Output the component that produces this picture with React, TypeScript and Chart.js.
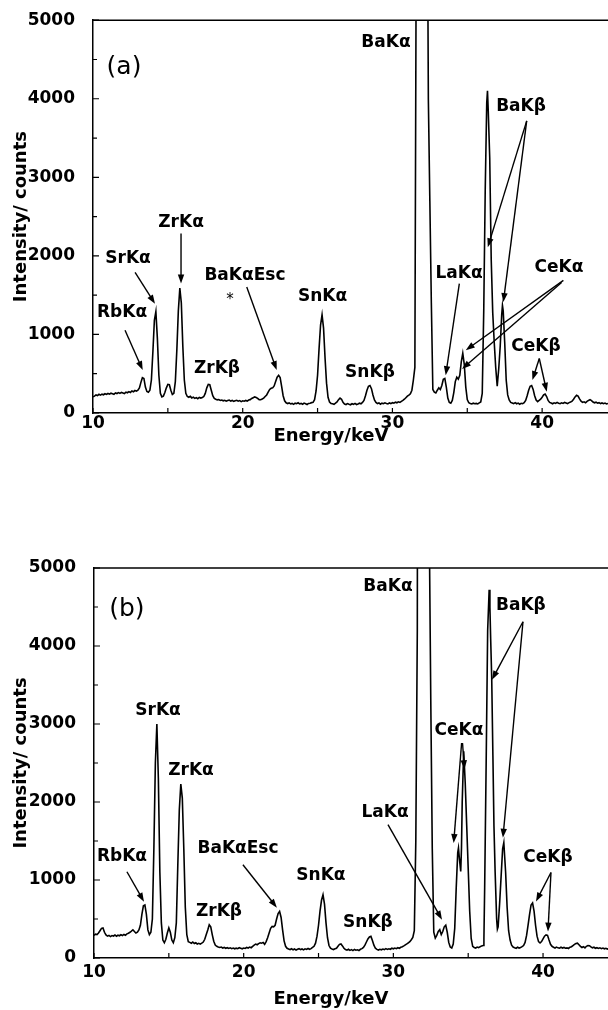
import { useEffect, useRef } from "react";
import { Chart, registerables } from "chart.js";

Chart.register(...registerables);

const FONT = "'DejaVu Sans', 'Liberation Sans', sans-serif";

// ---------- Panel (a) spectrum ----------
const energyA = [
  10.0, 10.1, 10.2, 10.3, 10.4, 10.5, 10.6, 10.7, 10.8, 10.9,
  11.0, 11.1, 11.2, 11.3, 11.4, 11.5, 11.6, 11.7, 11.8, 11.9,
  12.0, 12.1, 12.2, 12.3, 12.4, 12.5, 12.6, 12.7, 12.8, 12.9,
  13.0, 13.1, 13.2, 13.3, 13.4, 13.5, 13.6, 13.7, 13.8, 13.9,
  14.0, 14.1, 14.2, 14.3, 14.4, 14.5, 14.6, 14.7, 14.8, 14.9,
  15.0, 15.1, 15.2, 15.3, 15.4, 15.5, 15.6, 15.7, 15.8, 15.9,
  16.0, 16.1, 16.2, 16.3, 16.4, 16.5, 16.6, 16.7, 16.8, 16.9,
  17.0, 17.1, 17.2, 17.3, 17.4, 17.5, 17.6, 17.7, 17.8, 17.9,
  18.0, 18.1, 18.2, 18.3, 18.4, 18.5, 18.6, 18.7, 18.8, 18.9,
  19.0, 19.1, 19.2, 19.3, 19.4, 19.5, 19.6, 19.7, 19.8, 19.9,
  20.0, 20.1, 20.2, 20.3, 20.4, 20.5, 20.6, 20.7, 20.8, 20.9,
  21.0, 21.1, 21.2, 21.3, 21.4, 21.5, 21.6, 21.7, 21.8, 21.9,
  22.0, 22.1, 22.2, 22.3, 22.4, 22.5, 22.6, 22.7, 22.8, 22.9,
  23.0, 23.1, 23.2, 23.3, 23.4, 23.5, 23.6, 23.7, 23.8, 23.9,
  24.0, 24.1, 24.2, 24.3, 24.4, 24.5, 24.6, 24.7, 24.8, 24.9,
  25.0, 25.1, 25.2, 25.3, 25.4, 25.5, 25.6, 25.7, 25.8, 25.9,
  26.0, 26.1, 26.2, 26.3, 26.4, 26.5, 26.6, 26.7, 26.8, 26.9,
  27.0, 27.1, 27.2, 27.3, 27.4, 27.5, 27.6, 27.7, 27.8, 27.9,
  28.0, 28.1, 28.2, 28.3, 28.4, 28.5, 28.6, 28.7, 28.8, 28.9,
  29.0, 29.1, 29.2, 29.3, 29.4, 29.5, 29.6, 29.7, 29.8, 29.9,
  30.0, 30.1, 30.2, 30.3, 30.4, 30.5, 30.6, 30.7, 30.8, 30.9,
  31.0, 31.1, 31.2, 31.3, 31.4, 31.5, 31.6, 31.7, 31.8, 31.9,
  32.0, 32.1, 32.2, 32.3, 32.4, 32.5, 32.6, 32.7, 32.8, 32.9,
  33.0, 33.1, 33.2, 33.3, 33.4, 33.5, 33.6, 33.7, 33.8, 33.9,
  34.0, 34.1, 34.2, 34.3, 34.4, 34.5, 34.6, 34.7, 34.8, 34.9,
  35.0, 35.1, 35.2, 35.3, 35.4, 35.5, 35.6, 35.7, 35.8, 35.9,
  36.0, 36.1, 36.2, 36.3, 36.35, 36.4, 36.5, 36.6, 36.7, 36.8, 36.9,
  37.0, 37.1, 37.2, 37.3, 37.35, 37.4, 37.5, 37.6, 37.7, 37.8, 37.9,
  38.0, 38.1, 38.2, 38.3, 38.4, 38.5, 38.6, 38.7, 38.8, 38.9,
  39.0, 39.1, 39.2, 39.3, 39.4, 39.5, 39.6, 39.7, 39.8, 39.9,
  40.0, 40.1, 40.2, 40.3, 40.4, 40.5, 40.6, 40.7, 40.8, 40.9,
  41.0, 41.1, 41.2, 41.3, 41.4, 41.5, 41.6, 41.7, 41.8, 41.9,
  42.0, 42.1, 42.2, 42.3, 42.4, 42.5, 42.6, 42.7, 42.8, 42.9,
  43.0, 43.1, 43.2, 43.3, 43.4, 43.5, 43.6, 43.7, 43.8, 43.9,
  44.0, 44.1, 44.2, 44.3, 44.4,
];
const countsA = [
  205, 215, 230, 222, 238, 228, 240, 232, 245, 236,
  248, 240, 252, 246, 238, 255, 248, 260, 250, 262,
  256, 248, 266, 258, 272, 262, 280, 270, 286, 278,
  290, 320, 390, 450, 440, 330, 275, 265, 290, 420,
  780, 1180, 1290, 950, 480, 250, 205, 215, 260, 320,
  365, 360, 290, 235, 250, 400, 800, 1300, 1590, 1400,
  850, 420, 250, 210, 200, 212, 192, 202, 186, 196,
  182, 198, 190, 196, 210, 250, 320, 365, 360, 290,
  220, 185, 175, 168, 172, 160, 165, 155, 162, 150,
  158, 165, 152, 160, 148, 155, 162, 150, 158, 145,
  155, 150, 160, 152, 165, 170, 185, 195, 205, 198,
  185, 170, 168, 178, 190, 210, 230, 265, 300, 315,
  320, 345, 400, 455, 480, 450, 340, 220, 155, 130,
  120, 128, 115, 122, 110, 125, 118, 130, 115, 122,
  112, 126, 118, 108, 122, 125, 132, 135, 170, 280,
  480, 820, 1120, 1250, 1080, 700, 380, 200, 140, 122,
  118, 110, 125, 140, 170, 190, 175, 135, 115, 108,
  120, 112, 105, 118, 110, 122, 108, 115, 125, 118,
  135, 160, 220, 290, 340, 350, 310, 230, 165, 135,
  120, 128, 112, 125, 118, 130, 122, 115, 128, 120,
  132, 125, 138, 130, 142, 135, 148, 160, 175, 195,
  215, 228, 245, 290, 420, 580, 6500, 22000, 34000, 38000,
  35000, 26000, 15000, 8000, 4000, 2700, 1400, 300, 265, 255,
  290, 320, 300, 350, 430, 440, 330, 190, 135, 125,
  160, 260, 400, 455, 430, 480, 650, 760, 620, 330,
  170, 130, 120, 115, 125, 118, 122, 115, 128, 140,
  250, 1300, 2850, 3950, 4100, 3850, 3250, 1950, 1280, 900, 580,
  340, 560, 850, 1250, 1370, 1300, 900, 420, 230, 165, 135,
  128, 120, 132, 118, 126, 112, 124, 118, 130, 160,
  220, 290, 340, 350, 300, 220, 165, 145, 160, 175,
  200, 230, 240, 210, 160, 135, 128, 118, 130, 122,
  135, 125, 118, 130, 122, 135, 128, 120, 132, 140,
  150, 175, 205, 225, 215, 180, 150, 135, 142, 130,
  148, 160, 170, 158, 140, 130, 138, 125, 132, 120,
  128, 118, 126, 115, 122,
];

// ---------- Panel (b) spectrum ----------
const energyB = [
  10.0, 10.1, 10.2, 10.3, 10.4, 10.5, 10.6, 10.7, 10.8, 10.9,
  11.0, 11.1, 11.2, 11.3, 11.4, 11.5, 11.6, 11.7, 11.8, 11.9,
  12.0, 12.1, 12.2, 12.3, 12.4, 12.5, 12.6, 12.7, 12.8, 12.9,
  13.0, 13.1, 13.2, 13.3, 13.4, 13.5, 13.6, 13.7, 13.8, 13.9,
  14.0, 14.1, 14.2, 14.3, 14.4, 14.5, 14.6, 14.7, 14.8, 14.9,
  15.0, 15.1, 15.2, 15.3, 15.4, 15.5, 15.6, 15.7, 15.8, 15.9,
  16.0, 16.1, 16.2, 16.3, 16.4, 16.5, 16.6, 16.7, 16.8, 16.9,
  17.0, 17.1, 17.2, 17.3, 17.4, 17.5, 17.6, 17.7, 17.8, 17.9,
  18.0, 18.1, 18.2, 18.3, 18.4, 18.5, 18.6, 18.7, 18.8, 18.9,
  19.0, 19.1, 19.2, 19.3, 19.4, 19.5, 19.6, 19.7, 19.8, 19.9,
  20.0, 20.1, 20.2, 20.3, 20.4, 20.5, 20.6, 20.7, 20.8, 20.9,
  21.0, 21.1, 21.2, 21.3, 21.4, 21.5, 21.6, 21.7, 21.8, 21.9,
  22.0, 22.1, 22.2, 22.3, 22.4, 22.5, 22.6, 22.7, 22.8, 22.9,
  23.0, 23.1, 23.2, 23.3, 23.4, 23.5, 23.6, 23.7, 23.8, 23.9,
  24.0, 24.1, 24.2, 24.3, 24.4, 24.5, 24.6, 24.7, 24.8, 24.9,
  25.0, 25.1, 25.2, 25.3, 25.4, 25.5, 25.6, 25.7, 25.8, 25.9,
  26.0, 26.1, 26.2, 26.3, 26.4, 26.5, 26.6, 26.7, 26.8, 26.9,
  27.0, 27.1, 27.2, 27.3, 27.4, 27.5, 27.6, 27.7, 27.8, 27.9,
  28.0, 28.1, 28.2, 28.3, 28.4, 28.5, 28.6, 28.7, 28.8, 28.9,
  29.0, 29.1, 29.2, 29.3, 29.4, 29.5, 29.6, 29.7, 29.8, 29.9,
  30.0, 30.1, 30.2, 30.3, 30.4, 30.5, 30.6, 30.7, 30.8, 30.9,
  31.0, 31.1, 31.2, 31.3, 31.4, 31.5, 31.6, 31.7, 31.8, 31.9,
  32.0, 32.1, 32.2, 32.3, 32.4, 32.5, 32.6, 32.7, 32.8, 32.9,
  33.0, 33.1, 33.2, 33.3, 33.4, 33.5, 33.6, 33.7, 33.8, 33.9,
  34.0, 34.1, 34.2, 34.3, 34.35, 34.4, 34.5, 34.55, 34.6, 34.7, 34.8, 34.9,
  35.0, 35.1, 35.2, 35.3, 35.4, 35.5, 35.6, 35.7, 35.8, 35.9,
  36.0, 36.05, 36.1, 36.2, 36.3, 36.4, 36.45, 36.5, 36.57, 36.65, 36.72, 36.8, 36.9, 36.95,
  37.0, 37.1, 37.2, 37.3, 37.38, 37.5, 37.6, 37.7, 37.8, 37.9,
  38.0, 38.1, 38.2, 38.3, 38.4, 38.5, 38.6, 38.7, 38.8, 38.9,
  39.0, 39.1, 39.2, 39.3, 39.4, 39.5, 39.6, 39.7, 39.8, 39.9,
  40.0, 40.1, 40.2, 40.3, 40.4, 40.5, 40.6, 40.7, 40.8, 40.9,
  41.0, 41.1, 41.2, 41.3, 41.4, 41.5, 41.6, 41.7, 41.8, 41.9,
  42.0, 42.1, 42.2, 42.3, 42.4, 42.5, 42.6, 42.7, 42.8, 42.9,
  43.0, 43.1, 43.2, 43.3, 43.4, 43.5, 43.6, 43.7, 43.8, 43.9,
  44.0, 44.1, 44.2, 44.3, 44.4,
];
const countsB = [
  290, 305, 300, 320, 350, 380, 385, 330, 295, 280,
  290, 275, 288, 282, 295, 280, 292, 285, 298, 288,
  302, 292, 310, 318, 330, 345, 362, 340, 320, 330,
  360, 420, 560, 670, 680, 560, 360, 300, 330, 500,
  1400, 2500, 3000, 2300, 1100, 450, 230, 195, 240, 320,
  385, 330, 230, 195, 260, 450, 1200, 1900, 2230, 2050,
  1400, 650, 300, 210, 200, 190, 205, 185, 195, 180,
  188, 178, 190, 205, 240, 300, 360, 425, 400, 300,
  215, 165, 150, 142, 135, 140, 128, 136, 125, 132,
  122, 130, 120, 128, 118, 126, 120, 132, 125, 118,
  128, 122, 135, 128, 140, 132, 150, 165, 178, 170,
  185, 195, 190, 200, 175, 210, 260, 320, 380, 405,
  400, 420, 500, 570, 598, 520, 360, 220, 150, 125,
  115, 108, 118, 105, 115, 102, 112, 120, 108, 116,
  104, 118, 110, 122, 112, 120, 135, 150, 190, 280,
  420, 600, 740, 810, 690, 450, 260, 160, 125, 115,
  108, 118, 125, 150, 175, 180, 155, 125, 108, 100,
  112, 98, 108, 95, 110, 100, 105, 96, 112, 120,
  135, 165, 205, 245, 270, 277, 225, 165, 125, 110,
  102, 112, 105, 115, 108, 120, 110, 118, 112, 125,
  118, 128, 120, 132, 125, 138, 145, 155, 168, 180,
  195, 210, 235, 265, 350, 1500, 4200, 20000, 34000, 38000,
  36000, 28000, 17000, 10000, 5500, 3300, 1400, 330, 256, 290,
  340, 363, 300, 340, 400, 420, 330, 200, 140, 128,
  180, 380, 900, 1350, 1410, 1300, 1110, 1400, 2000, 2650, 2250, 1700,
  1150, 600, 250, 150, 135, 128, 140, 132, 145, 155,
  160, 250, 900, 2500, 4200, 4720, 4500, 4100, 3600, 2600, 1700, 1100, 500, 370,
  400, 700, 1050, 1400, 1480, 1100, 650, 350, 230, 165,
  140, 132, 125, 138, 128, 135, 145, 160, 200, 290,
  420, 560, 680, 705, 600, 420, 280, 210, 192, 210,
  245, 280, 295, 290, 230, 175, 150, 138, 128, 140,
  130, 125, 138, 128, 135, 125, 130, 122, 138, 145,
  160, 175, 185, 190, 170, 150, 135, 145, 130, 150,
  160, 158, 142, 130, 138, 125, 132, 122, 130, 120,
  128, 118, 125, 115, 120,
];

// ---------- Axes ----------
const xTickValues = [10, 20, 30, 40];
const xMinorValues = [15, 25, 35];
const yTickValues = [0, 1000, 2000, 3000, 4000, 5000];
const yMinorValues = [500, 1500, 2500, 3500, 4500];
const xTitle = "Energy/keV";
const yTitle = "Intensity/ counts";

// ---------- Annotations (data coordinates: keV, counts) ----------
type Ann = { text: string; x: number; y: number };
type Arr = { x1: number; y1: number; x2: number; y2: number };

const letterA: Ann = { text: "(a)", x: 12.07, y: 4403 };
const labelsA: Ann[] = [
  { text: "SrKα", x: 12.34, y: 1967 },
  { text: "RbKα", x: 11.94, y: 1282 },
  { text: "ZrKα", x: 15.88, y: 2424 },
  { text: "ZrKβ", x: 18.28, y: 571 },
  { text: "BaKαEsc", x: 20.15, y: 1751 },
  { text: "SnKα", x: 25.33, y: 1476 },
  { text: "SnKβ", x: 28.5, y: 520 },
  { text: "BaKα", x: 29.57, y: 4721 },
  { text: "LaKα", x: 34.45, y: 1777 },
  { text: "BaKβ", x: 38.59, y: 3896 },
  { text: "CeKα", x: 41.13, y: 1853 },
  { text: "CeKβ", x: 39.59, y: 850 },
];
const marksA: Ann[] = [{ text: "*", x: 19.15, y: 1440 }];
const arrowsA: Arr[] = [
  { x1: 12.14, y1: 1053, x2: 13.32, y2: 546 },
  { x1: 12.81, y1: 1790, x2: 14.14, y2: 1390 },
  { x1: 15.88, y1: 2284, x2: 15.88, y2: 1650 },
  { x1: 20.27, y1: 1603, x2: 22.27, y2: 546 },
  { x1: 34.47, y1: 1646, x2: 33.56, y2: 482 },
  { x1: 38.97, y1: 3718, x2: 36.37, y2: 2110 },
  { x1: 38.97, y1: 3718, x2: 37.41, y2: 1413 },
  { x1: 41.42, y1: 1688, x2: 34.9, y2: 800 },
  { x1: 41.3, y1: 1660, x2: 34.65, y2: 560 },
  { x1: 39.81, y1: 694, x2: 39.35, y2: 419 },
  { x1: 39.81, y1: 694, x2: 40.31, y2: 270 },
];

const letterB: Ann = { text: "(b)", x: 12.2, y: 4465 };
const labelsB: Ann[] = [
  { text: "SrKα", x: 14.28, y: 3170 },
  { text: "ZrKα", x: 16.48, y: 2401 },
  { text: "RbKα", x: 11.87, y: 1299 },
  { text: "ZrKβ", x: 18.35, y: 594 },
  { text: "BaKαEsc", x: 19.62, y: 1402 },
  { text: "SnKα", x: 25.16, y: 1056 },
  { text: "SnKβ", x: 28.3, y: 453 },
  { text: "BaKα", x: 29.64, y: 4763 },
  { text: "LaKα", x: 29.44, y: 1866 },
  { text: "CeKα", x: 34.38, y: 2918 },
  { text: "BaKβ", x: 38.52, y: 4516 },
  { text: "CeKβ", x: 40.33, y: 1288 },
];
const marksB: Ann[] = [];
const arrowsB: Arr[] = [
  { x1: 12.2, y1: 1106, x2: 13.34, y2: 722 },
  { x1: 19.95, y1: 1196, x2: 22.22, y2: 645 },
  { x1: 29.64, y1: 1709, x2: 33.25, y2: 491 },
  { x1: 34.56, y1: 2756, x2: 34.03, y2: 1474 },
  { x1: 34.62, y1: 2756, x2: 34.75, y2: 2420 },
  { x1: 38.66, y1: 4311, x2: 36.59, y2: 3567 },
  { x1: 38.66, y1: 4311, x2: 37.32, y2: 1542 },
  { x1: 40.53, y1: 1096, x2: 39.53, y2: 724 },
  { x1: 40.53, y1: 1096, x2: 40.33, y2: 339 },
];

interface PanelProps {
  energy: number[];
  counts: number[];
  letter: Ann;
  labels: Ann[];
  marks: Ann[];
  arrows: Arr[];
  top: number;
  height: number;
  padTop: number;
  axisW: number;
  axisH: number;
  xMax: number;
  tickPad: number;
  titleX: number;
  titleY: number;
}

function makeOverlay(p: PanelProps) {
  return {
    id: "overlay",
    afterDraw(chart: any) {
      const { ctx, chartArea: a } = chart;
      const xs = chart.scales.x;
      const ys = chart.scales.y;
      const X = (v: number) => xs.getPixelForValue(v);
      const Y = (v: number) => ys.getPixelForValue(v);
      ctx.save();
      ctx.strokeStyle = "#000";
      ctx.fillStyle = "#000";
      // top frame line
      ctx.lineWidth = 1.5;
      ctx.beginPath();
      ctx.moveTo(a.left - 0.75, a.top);
      ctx.lineTo(a.right, a.top);
      ctx.stroke();
      // inward ticks
      ctx.lineWidth = 1.2;
      ctx.beginPath();
      yTickValues.forEach((v) => {
        const py = Y(v);
        ctx.moveTo(a.left, py);
        ctx.lineTo(a.left + 6, py);
      });
      yMinorValues.forEach((v) => {
        const py = Y(v);
        ctx.moveTo(a.left, py);
        ctx.lineTo(a.left + 4, py);
      });
      [...xTickValues, ...xMinorValues].forEach((v) => {
        const px = X(v);
        ctx.moveTo(px, a.bottom);
        ctx.lineTo(px, a.bottom - 5);
      });
      ctx.stroke();
      // arrows
      ctx.lineWidth = 1.4;
      p.arrows.forEach((ar) => {
        const x1 = X(ar.x1), y1 = Y(ar.y1), x2 = X(ar.x2), y2 = Y(ar.y2);
        const ang = Math.atan2(y2 - y1, x2 - x1);
        const L = 9, W = 3.2;
        const c = Math.cos(ang), s = Math.sin(ang);
        ctx.beginPath();
        ctx.moveTo(x1, y1);
        ctx.lineTo(x2 - L * c * 0.8, y2 - L * s * 0.8);
        ctx.stroke();
        ctx.beginPath();
        ctx.moveTo(x2, y2);
        ctx.lineTo(x2 - L * c + W * s, y2 - L * s - W * c);
        ctx.lineTo(x2 - L * c - W * s, y2 - L * s + W * c);
        ctx.closePath();
        ctx.fill();
      });
      // labels
      ctx.textAlign = "center";
      ctx.textBaseline = "middle";
      ctx.font = `bold 17px ${FONT}`;
      p.labels.forEach((l) => ctx.fillText(l.text, X(l.x), Y(l.y)));
      ctx.font = `15px ${FONT}`;
      p.marks.forEach((l) => ctx.fillText(l.text, X(l.x), Y(l.y)));
      ctx.font = `25px ${FONT}`;
      ctx.fillText(p.letter.text, X(p.letter.x), Y(p.letter.y));
      // x-axis title
      ctx.font = `bold 18px ${FONT}`;
      ctx.fillText(xTitle, p.titleX, p.titleY);
      ctx.restore();
    },
  };
}

function Panel(p: PanelProps) {
  const ref = useRef<HTMLCanvasElement>(null);
  useEffect(() => {
    const tickFont = { family: FONT, size: 17, weight: "bold" as const };
    const chart = new Chart(ref.current as HTMLCanvasElement, {
      type: "line",
      data: {
        datasets: [
          {
            data: p.energy.map((e, i) => ({ x: e, y: p.counts[i] })),
            borderColor: "#000",
            borderWidth: 1.6,
            pointRadius: 0,
            tension: 0,
            fill: false,
          },
        ],
      },
      options: {
        animation: false,
        responsive: false,
        maintainAspectRatio: false,
        devicePixelRatio: 1,
        layout: { padding: { top: p.padTop, left: 0, right: 0, bottom: 0 } },
        plugins: { legend: { display: false }, tooltip: { enabled: false } },
        scales: {
          x: {
            type: "linear",
            min: 10,
            max: p.xMax,
            afterBuildTicks: (s: any) => {
              s.ticks = xTickValues.map((v) => ({ value: v }));
            },
            afterFit: (s: any) => {
              s.height = p.axisH;
            },
            ticks: {
              font: tickFont,
              color: "#000",
              padding: p.tickPad,
              maxRotation: 0,
              autoSkip: false,
              callback: (v: any) => String(v),
            },
            grid: { display: false },
            border: { display: true, color: "#000", width: 1.5 },
          },
          y: {
            type: "linear",
            min: 0,
            max: 5000,
            afterBuildTicks: (s: any) => {
              s.ticks = yTickValues.map((v) => ({ value: v }));
            },
            afterFit: (s: any) => {
              s.width = p.axisW;
            },
            ticks: {
              font: tickFont,
              color: "#000",
              padding: 10,
              autoSkip: false,
              callback: (v: any) => String(v),
            },
            grid: { display: false },
            border: { display: true, color: "#000", width: 1.5 },
            title: {
              display: true,
              text: yTitle,
              color: "#000",
              font: { family: FONT, size: 18, weight: "bold" },
              padding: { top: 11, bottom: 0 },
            },
          },
        },
      },
      plugins: [makeOverlay(p)],
    } as any);
    return () => chart.destroy();
  }, []);
  return (
    <canvas
      ref={ref}
      width={608}
      height={p.height}
      style={{ position: "absolute", left: 0, top: p.top, width: 608, height: p.height }}
    />
  );
}

export default function App() {
  return (
    <div style={{ position: "absolute", left: 0, top: 0, width: 608, height: 1010, background: "#fff", overflow: "hidden" }}>
      <Panel
        energy={energyA}
        counts={countsA}
        letter={letterA}
        labels={labelsA}
        marks={marksA}
        arrows={arrowsA}
        top={0}
        height={450}
        padTop={19}
        axisW={93}
        axisH={37}
        xMax={44.4}
        tickPad={-8}
        titleX={331}
        titleY={436}
      />
      <Panel
        energy={energyB}
        counts={countsB}
        letter={letterB}
        labels={labelsB}
        marks={marksB}
        arrows={arrowsB}
        top={520}
        height={490}
        padTop={48}
        axisW={94}
        axisH={52}
        xMax={44.34}
        tickPad={-4}
        titleX={331}
        titleY={479}
      />
    </div>
  );
}
